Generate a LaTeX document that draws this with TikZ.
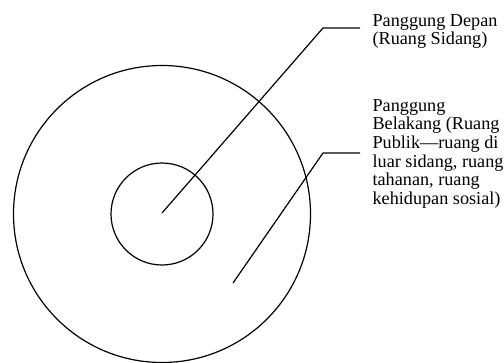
\documentclass[tikz,border=0pt]{standalone}
\usepackage{fontspec}
\setmainfont{Liberation Serif}
\begin{document}
\begin{tikzpicture}[x=1pt,y=-1pt,line width=1.2pt,
  ring/.style={circle,draw,inner sep=0pt},
  lab/.style={anchor=base west,inner sep=0pt,font=\fontsize{18.2}{18.7}\selectfont}]
\useasboundingbox (0,0) rectangle (504,362);
\coordinate (c) at (162,214);
\node (outer) [ring,minimum size=297pt] at (c) {};
\node (inner) [ring,minimum size=102pt] at (c) {};
\node (front) [lab] at (372,26) {\vtop{\hbox{Panggung Depan}\hbox{(Ruang Sidang)}}};
\node (back) [lab] at (372,111) {\vtop{\hbox{Panggung}\hbox{Belakang (Ruang}\hbox{Publik—ruang di}\hbox{luar sidang, ruang}\hbox{tahanan, ruang}\hbox{kehidupan sosial)}}};
\coordinate (s1) at (162,213);
\coordinate (k1) at (323,28);
\coordinate (e1) at (360,28);
\coordinate (s2) at (233,283);
\coordinate (k2) at (323,153);
\coordinate (e2) at (360,153);
\draw (s1) -- (k1) -- (e1);
\draw (s2) -- (k2) -- (e2);
\end{tikzpicture}
\end{document}
